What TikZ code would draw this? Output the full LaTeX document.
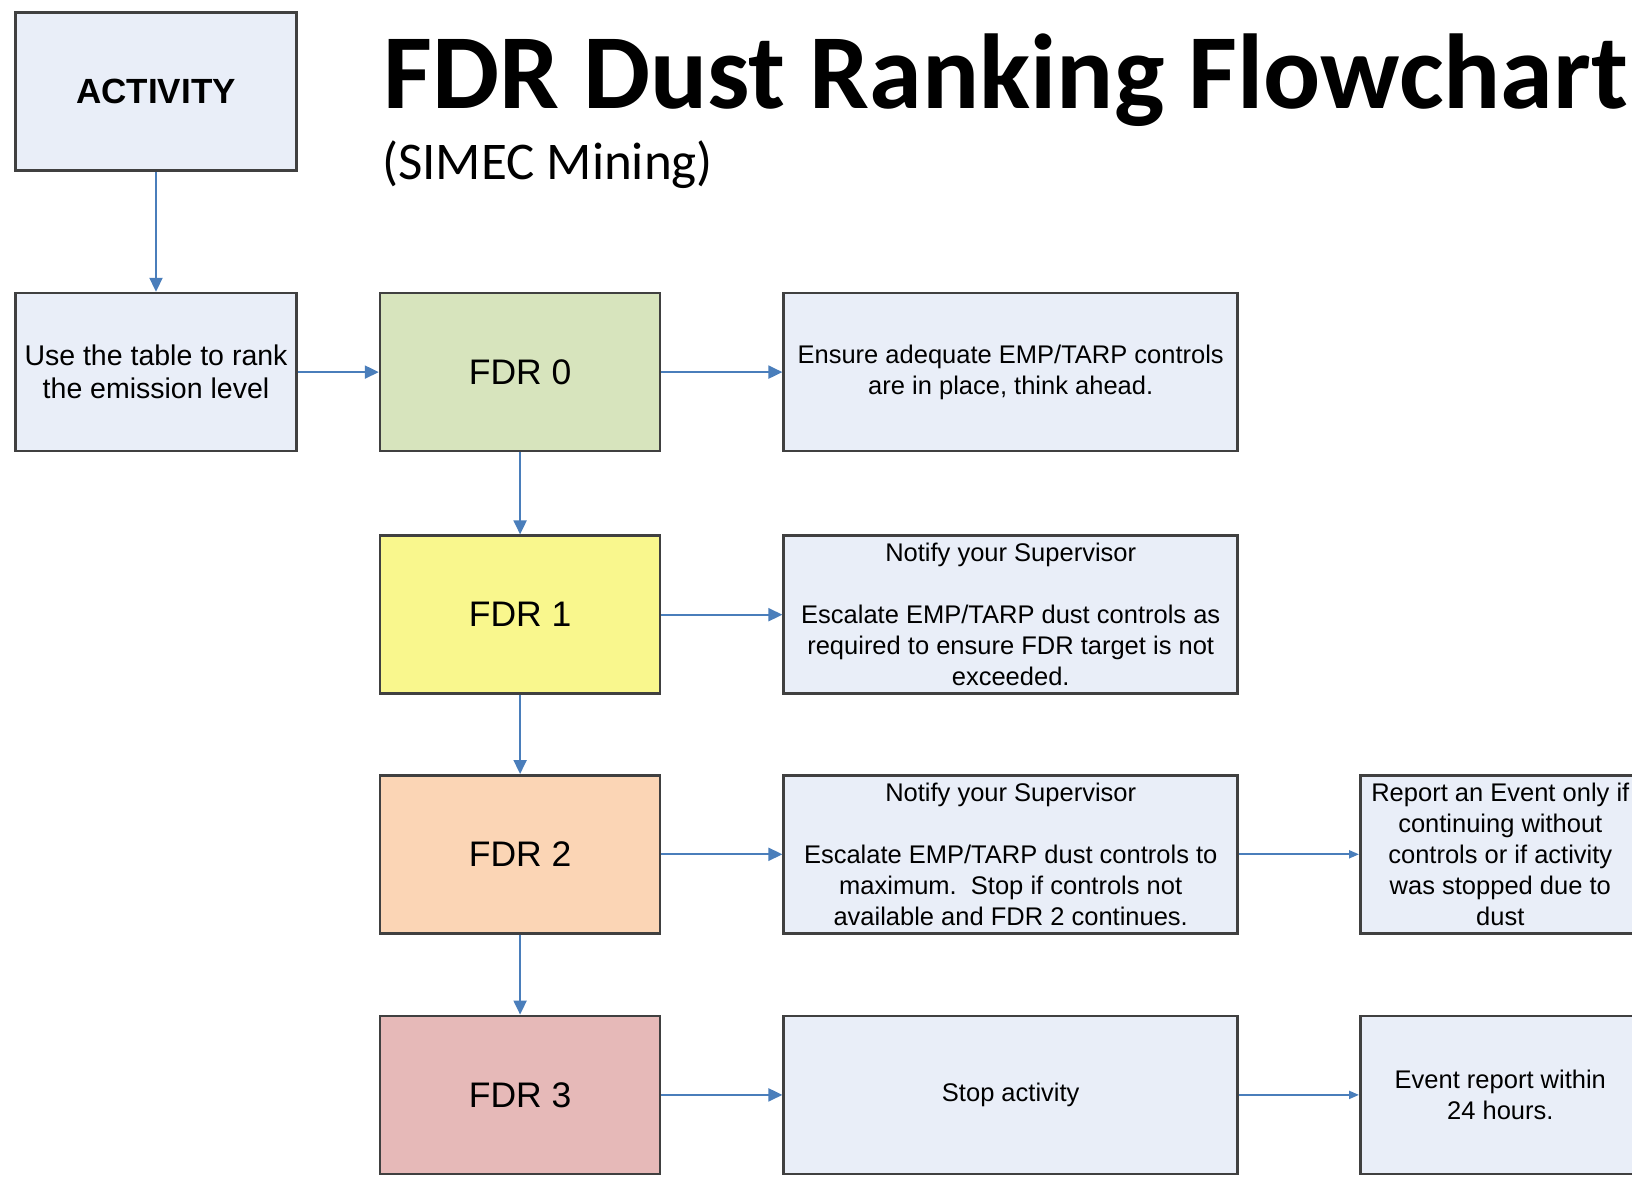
\documentclass[tikz,border=0pt]{standalone}
\usepackage{fontspec}
\usepackage{xcolor}
\usetikzlibrary{arrows.meta}
\usetikzlibrary{positioning}
\newfontfamily\boxfont{Liberation Sans}
\newfontfamily\headfont{Carlito}
\definecolor{boxblue}{HTML}{E9EEF8}
\definecolor{boxedge}{HTML}{404040}
\definecolor{arrowblue}{HTML}{4A7EBB}
\definecolor{fdrgreen}{HTML}{D7E4BD}
\definecolor{fdryellow}{HTML}{F9F78D}
\definecolor{fdrpeach}{HTML}{FBD5B5}
\definecolor{fdrred}{HTML}{E6B9B8}

\begin{document}
\begin{tikzpicture}[
  x=1pt,y=-1pt,
  every node/.style={font=\boxfont\fontsize{25.5}{31}\selectfont},
  basebox/.style={draw=boxedge,line width=2.6pt,minimum height=158pt,
    inner sep=2pt,align=center},
  actbox/.style={basebox,fill=boxblue,minimum width=281pt},
  fdrbox/.style={basebox,minimum width=280pt,font=\boxfont\fontsize{35.5}{40}\selectfont},
  actionbox/.style={basebox,fill=boxblue,minimum width=454pt},
  reportbox/.style={basebox,fill=boxblue,minimum width=280pt},
  flow/.style={draw=arrowblue,line width=2pt,-{Triangle[length=14pt,width=13pt]}},
  flowsmall/.style={draw=arrowblue,line width=2pt,-{Triangle[length=10pt,width=8pt]}}]
\clip (0,0) rectangle (1632,1177);
\fill[white] (0,0) rectangle (1632,1177);
% title
\node[anchor=base west,inner sep=0pt,font=\headfont\bfseries\fontsize{106.5}{110}\selectfont]
  (title) at (383,109) {FDR Dust Ranking Flowchart};
\node[anchor=base west,inner sep=0pt,font=\headfont\fontsize{53}{60}\selectfont]
  (subtitle) at (382,179) {(SIMEC Mining)};
% left column
\node[actbox,font=\boxfont\bfseries\fontsize{35}{40}\selectfont] (activity) at (156,91.5) {ACTIVITY};
\node[actbox,below=120pt of activity,font=\boxfont\fontsize{28.5}{33}\selectfont] (rank)
  {Use the table to rank\\the emission level};
% ranking levels
\node[fdrbox,fill=fdrgreen,right=81pt of rank] (fdr0) {FDR 0};
\node[fdrbox,fill=fdryellow,below=82pt of fdr0] (fdr1) {FDR 1};
\node[fdrbox,fill=fdrpeach,below=79pt of fdr1] (fdr2) {FDR 2};
\node[fdrbox,fill=fdrred,below=80pt of fdr2] (fdr3) {FDR 3};
% actions
\node[actionbox,right=121pt of fdr0] (ensure)
  {Ensure adequate EMP/TARP controls\\are in place, think ahead.};
\node[actionbox,right=121pt of fdr1] (notifya)
  {Notify your Supervisor\\[31pt]Escalate EMP/TARP dust controls as\\required to ensure FDR target is not\\exceeded.};
\node[actionbox,right=121pt of fdr2] (notifyb)
  {Notify your Supervisor\\[31pt]Escalate EMP/TARP dust controls to\\maximum.\ \ Stop if controls not\\available and FDR 2 continues.};
\node[actionbox,right=121pt of fdr3] (stop) {Stop activity};
% reporting
\node[reportbox,right=120pt of notifyb] (report)
  {Report an Event only if\\continuing without\\controls or if activity\\was stopped due to\\dust};
\node[reportbox,right=120pt of stop] (event) {Event report within\\24 hours.};
% connectors
\draw[flow] (activity) -- (rank);
\draw[flow] (rank) -- (fdr0);
\draw[flow] (fdr0) -- (ensure);
\draw[flow] (fdr0) -- (fdr1);
\draw[flow] (fdr1) -- (notifya);
\draw[flow] (fdr1) -- (fdr2);
\draw[flow] (fdr2) -- (notifyb);
\draw[flow] (fdr2) -- (fdr3);
\draw[flow] (fdr3) -- (stop);
\draw[flowsmall] (notifyb) -- (report);
\draw[flowsmall] (stop) -- (event);
\end{tikzpicture}
\end{document}
